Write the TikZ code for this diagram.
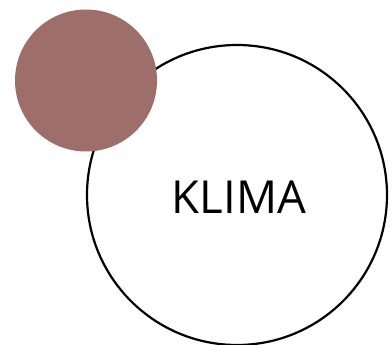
\documentclass[tikz,border=0pt]{standalone}
\usepackage{fontspec}
\setmainfont{Open Sans}
\usepackage{xcolor}
\usetikzlibrary{positioning}
\definecolor{klimarose}{HTML}{9E6E6B}

\begin{document}
\begin{tikzpicture}[x=1pt,y=-1pt]
\useasboundingbox (0,0) rectangle (392,345);
\node[circle,draw=black,line width=2.2pt,minimum size=300pt,inner sep=0pt] (klima) at (237,195) {};
\node[circle,fill=klimarose,minimum size=142pt,inner sep=0pt] (dot) at (86,80.5) {};
\node[font=\fontsize{45.5}{50}\selectfont] (label) at (239,197) {KLIMA};
\end{tikzpicture}
\end{document}
